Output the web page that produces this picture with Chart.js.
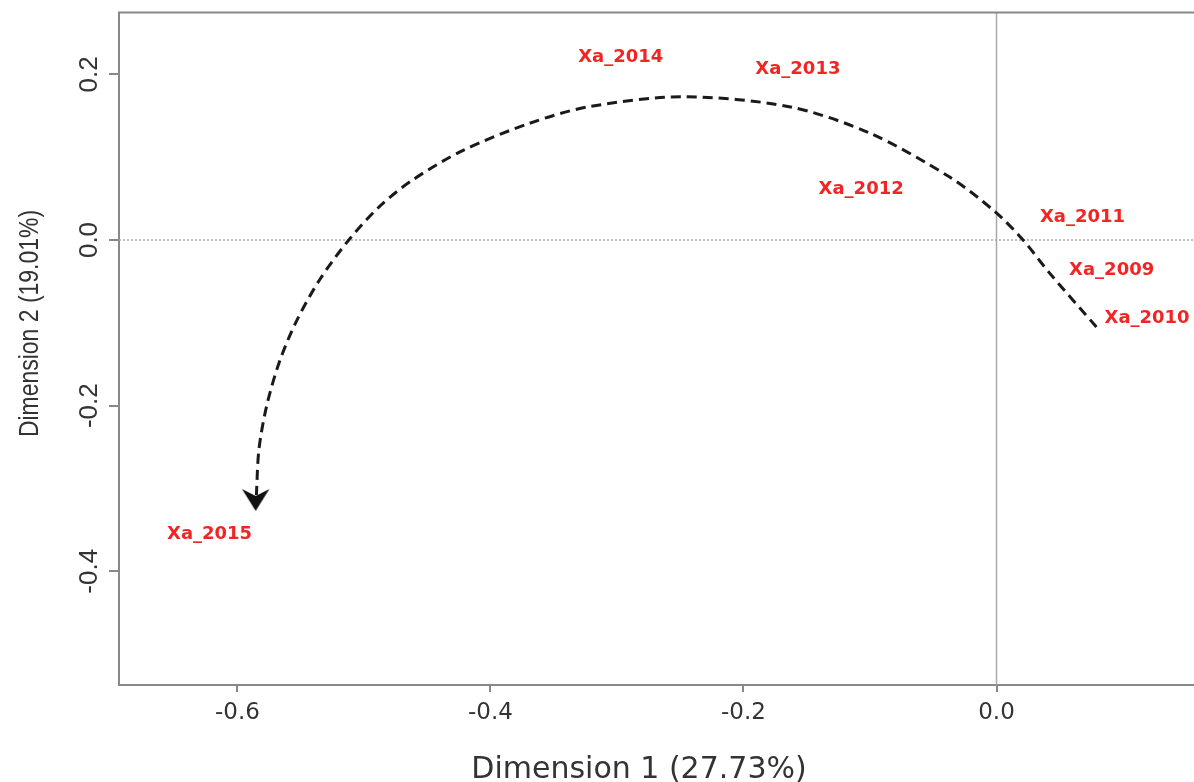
<!DOCTYPE html>
<html>
<head>
<meta charset="utf-8">
<script src="https://cdn.jsdelivr.net/npm/chart.js@4.4.1/dist/chart.umd.min.js"></script>
<style>
  html, body { margin: 0; padding: 0; background: #fff; overflow: hidden; }
  #wrap { width: 1194px; height: 782px; }
</style>
</head>
<body>
<div id="wrap"><canvas id="myChart"></canvas></div>
<script>
// row coordinates of the CA map
const years = ["Xa_2009", "Xa_2010", "Xa_2011", "Xa_2012", "Xa_2013", "Xa_2014", "Xa_2015"];
const dim1 = [0.091, 0.119, 0.068, -0.107, -0.157, -0.297, -0.622];
const dim2 = [-0.037, -0.094, 0.027, 0.061, 0.206, 0.221, -0.355];

// hand drawn trajectory (dashed arrow)
const pathX = [0.079, 0.042, 0.021, -0.001, -0.037, -0.100, -0.164, -0.248, -0.322, -0.369, -0.422, -0.462, -0.488, -0.512, -0.535, -0.554, -0.567, -0.577, -0.583, -0.585];
const pathY = [-0.105, -0.040, 0.000, 0.034, 0.076, 0.129, 0.161, 0.173, 0.161, 0.141, 0.108, 0.072, 0.040, 0.000, -0.048, -0.100, -0.148, -0.201, -0.253, -0.308];
const arrowHead = [{ x: -0.5856, y: -0.3139 }];

const xTicks = [-0.6, -0.4, -0.2, 0.0];
const yTicks = [-0.4, -0.2, 0.0, 0.2];

const xTitle = "Dimension 1 (27.73%)";
const yTitle = "Dimension 2 (19.01%)";

// arrow head used as point style
const arrowImg = document.createElement("canvas");
arrowImg.width = 30;
arrowImg.height = 30;
const actx = arrowImg.getContext("2d");
actx.fillStyle = "#111";
actx.beginPath();
actx.moveTo(15, 26);
actx.lineTo(28.7, 4);
actx.lineTo(15, 11);
actx.lineTo(1.3, 4);
actx.closePath();
actx.fill();

const decor = {
  id: "decor",
  beforeDatasetsDraw(chart) {
    const { ctx, chartArea: a, scales } = chart;
    const x0 = scales.x.getPixelForValue(0);
    const y0 = scales.y.getPixelForValue(0);
    ctx.save();
    ctx.strokeStyle = "#a8a8a8";
    ctx.lineWidth = 1.5;
    ctx.beginPath();
    ctx.moveTo(x0, a.top);
    ctx.lineTo(x0, a.bottom);
    ctx.stroke();
    ctx.setLineDash([2, 2]);
    ctx.beginPath();
    ctx.moveTo(a.left, y0);
    ctx.lineTo(a.right, y0);
    ctx.stroke();
    ctx.restore();
  },
  afterDatasetsDraw(chart) {
    const { ctx } = chart;
    const meta = chart.getDatasetMeta(2);
    ctx.save();
    ctx.font = "bold 18px 'DejaVu Sans', Verdana, sans-serif";
    ctx.fillStyle = "#f22424";
    ctx.textAlign = "center";
    ctx.textBaseline = "middle";
    meta.data.forEach((pt, i) => ctx.fillText(years[i], pt.x, pt.y));
    ctx.restore();
  },
  afterDraw(chart) {
    const { ctx, chartArea: a, scales } = chart;
    ctx.save();
    // top frame line
    ctx.strokeStyle = "#888";
    ctx.lineWidth = 2;
    ctx.beginPath();
    ctx.moveTo(a.left - 1, a.top);
    ctx.lineTo(a.right, a.top);
    ctx.stroke();

    // rotated y tick labels
    ctx.fillStyle = "#333";
    ctx.font = "26px 'Liberation Sans', Arial, sans-serif";
    ctx.textAlign = "center";
    ctx.textBaseline = "alphabetic";
    scales.y.ticks.forEach((t) => {
      const py = scales.y.getPixelForValue(t.value);
      ctx.save();
      ctx.translate(97, py);
      ctx.rotate(-Math.PI / 2);
      ctx.fillText(t.value.toFixed(1), 0, 0);
      ctx.restore();
    });

    // axis titles
    ctx.font = "30px 'DejaVu Sans', Verdana, sans-serif";
    ctx.fillText(xTitle, 639, 778);
    ctx.save();
    ctx.translate(38, 323.5);
    ctx.rotate(-Math.PI / 2);
    ctx.scale(0.82, 1);
    ctx.font = "28px 'Liberation Sans', Arial, sans-serif";
    ctx.fillText(yTitle, 0, 0);
    ctx.restore();
    ctx.restore();
  },
};

const ctx = document.getElementById("myChart").getContext("2d");

new Chart(ctx, {
  type: "scatter",
  data: {
    datasets: [
      {
        data: pathX.map((v, i) => ({ x: v, y: pathY[i] })),
        showLine: true,
        borderColor: "#1a1a1a",
        borderWidth: 3,
        borderDash: [10, 6],
        tension: 0.3,
        pointRadius: 0,
        fill: false,
      },
      {
        data: arrowHead,
        pointStyle: arrowImg,
        pointRadius: 6,
      },
      {
        data: dim1.map((v, i) => ({ x: v, y: dim2[i] })),
        pointRadius: 0,
      },
    ],
  },
  options: {
    responsive: true,
    maintainAspectRatio: false,
    animation: false,
    layout: { autoPadding: false, padding: { top: 12.5, right: 0, left: 0, bottom: 0 } },
    plugins: {
      legend: { display: false },
      tooltip: { enabled: false },
    },
    scales: {
      x: {
        type: "linear",
        min: -0.6936,
        max: 0.1561,
        afterBuildTicks: (scale) => {
          scale.ticks = xTicks.map((v) => ({ value: v }));
        },
        afterFit: (scale) => {
          scale.height = 97;
          scale.paddingLeft = 0;
          scale.paddingRight = 0;
        },
        ticks: {
          color: "#333",
          padding: 7,
          font: { family: "'DejaVu Sans', Verdana, sans-serif", size: 23 },
          callback: (v) => Number(v).toFixed(1),
        },
        grid: {
          drawOnChartArea: false,
          drawTicks: true,
          tickLength: 7,
          tickColor: "#888",
          lineWidth: 2,
        },
        border: { display: true, color: "#888", width: 2 },
      },
      y: {
        type: "linear",
        min: -0.5373,
        max: 0.2747,
        afterBuildTicks: (scale) => {
          scale.ticks = yTicks.map((v) => ({ value: v }));
        },
        afterFit: (scale) => {
          scale.width = 119;
          scale.paddingTop = 0;
          scale.paddingBottom = 0;
        },
        ticks: { display: false },
        grid: {
          drawOnChartArea: false,
          drawTicks: true,
          tickLength: 10,
          tickColor: "#888",
          lineWidth: 2,
        },
        border: { display: true, color: "#888", width: 2 },
      },
    },
  },
  plugins: [decor],
});
</script>
</body>
</html>
